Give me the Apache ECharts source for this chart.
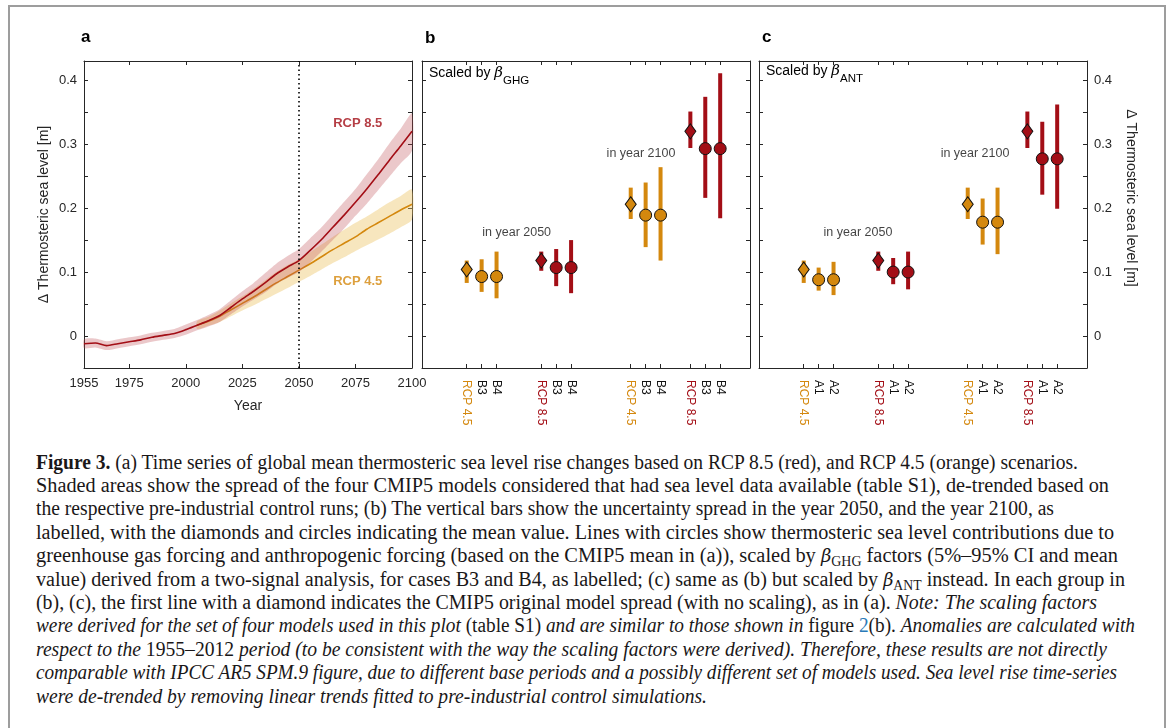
<!DOCTYPE html>
<html>
<head>
<meta charset="utf-8">
<script src="https://cdn.jsdelivr.net/npm/echarts@6.0.0/dist/echarts.min.js"></script>
<style>
html,body{margin:0;padding:0;background:#fff;width:1171px;height:728px;overflow:hidden;}
#frame{position:absolute;left:8px;top:5px;width:1154px;height:780px;border:2px solid #9d9d9d;z-index:5;pointer-events:none;}
#chart{position:absolute;left:0;top:0;width:1171px;height:440px;}
#caption{position:absolute;left:0;top:0;font-family:'Liberation Serif','Times New Roman',serif;font-size:20.5px;color:#1a1718;}
.cl{position:absolute;left:36px;white-space:nowrap;transform-origin:0 0;line-height:23.4px;}
.i{font-style:italic;}
.m{font-family:'DejaVu Serif',serif;font-style:italic;font-size:18px;}
.sb{font-size:14px;position:relative;top:4px;line-height:0;}
.lk{color:#2a7ab8;}
</style>
</head>
<body>
<div id="frame"></div>
<div id="chart"></div>
<div id="caption"></div>
<script>
// ---------- data: panel a (time series) ----------
const years = [1955,1960,1965,1970,1975,1980,1985,1990,1995,2000,2005,2010,2015,2020,2025,2030,2035,2040,2045,2050,2055,2060,2065,2070,2075,2080,2085,2090,2095,2100];
const rcp85Mean = [-0.012,-0.011,-0.015,-0.012,-0.009,-0.006,-0.002,0.001,0.004,0.010,0.017,0.024,0.032,0.045,0.058,0.070,0.083,0.097,0.108,0.118,0.134,0.151,0.170,0.189,0.209,0.230,0.252,0.275,0.297,0.320];
const rcp85Low  = [-0.019,-0.018,-0.022,-0.019,-0.016,-0.013,-0.009,-0.006,-0.003,0.002,0.009,0.015,0.022,0.034,0.046,0.057,0.068,0.081,0.091,0.100,0.115,0.132,0.150,0.168,0.188,0.207,0.228,0.249,0.270,0.290];
const rcp85High = [-0.005,-0.004,-0.008,-0.005,-0.002,0.001,0.005,0.008,0.011,0.018,0.025,0.033,0.042,0.056,0.070,0.083,0.098,0.113,0.125,0.136,0.153,0.170,0.190,0.210,0.230,0.253,0.276,0.301,0.324,0.348];
const rcp45Mean = [null,null,null,null,null,null,null,null,null,null,0.017,0.023,0.031,0.041,0.051,0.061,0.072,0.083,0.093,0.103,0.113,0.124,0.135,0.145,0.155,0.167,0.177,0.187,0.197,0.206];
const rcp45Low  = [null,null,null,null,null,null,null,null,null,null,0.011,0.016,0.022,0.031,0.040,0.048,0.057,0.066,0.075,0.085,0.094,0.104,0.114,0.123,0.133,0.142,0.151,0.160,0.170,0.182];
const rcp45High = [null,null,null,null,null,null,null,null,null,null,0.023,0.030,0.040,0.051,0.062,0.074,0.087,0.100,0.111,0.120,0.131,0.143,0.155,0.166,0.177,0.187,0.198,0.209,0.219,0.229];
const yearTicks = [1955,1975,2000,2025,2050,2075,2100];

// ---------- data: panel b (scaled by beta GHG) ----------
const bLabels = ['RCP 4.5','B3','B4','RCP 8.5','B3','B4','RCP 4.5','B3','B4','RCP 8.5','B3','B4'];
const bMean = [0.104,0.093,0.093, 0.118,0.107,0.107, 0.206,0.189,0.189, 0.320,0.293,0.293];
const bLow  = [0.083,0.069,0.059, 0.102,0.078,0.067, 0.183,0.139,0.118, 0.294,0.216,0.184];
const bHigh = [0.118,0.120,0.132, 0.132,0.136,0.150, 0.232,0.240,0.264, 0.351,0.374,0.411];

// ---------- data: panel c (scaled by beta ANT) ----------
const cLabels = ['RCP 4.5','A1','A2','RCP 8.5','A1','A2','RCP 4.5','A1','A2','RCP 8.5','A1','A2'];
const cMean = [0.104,0.088,0.088, 0.118,0.100,0.100, 0.206,0.178,0.178, 0.320,0.277,0.277];
const cLow  = [0.083,0.071,0.064, 0.102,0.081,0.073, 0.183,0.143,0.128, 0.294,0.221,0.199];
const cHigh = [0.118,0.107,0.116, 0.132,0.122,0.132, 0.232,0.215,0.232, 0.351,0.335,0.362];

const yearNotes = ['in year 2050','in year 2100'];
const yTitle = 'Δ Thermosteric sea level [m]';

// ---------- caption ----------
const captionLines = [
 '<b>Figure 3.</b> (a) Time series of global mean thermosteric sea level rise changes based on RCP 8.5 (red), and RCP 4.5 (orange) scenarios.',
 'Shaded areas show the spread of the four CMIP5 models considered that had sea level data available (table S1), de-trended based on',
 'the respective pre-industrial control runs; (b) The vertical bars show the uncertainty spread in the year 2050, and the year 2100, as',
 'labelled, with the diamonds and circles indicating the mean value. Lines with circles show thermosteric sea level contributions due to',
 'greenhouse gas forcing and anthropogenic forcing (based on the CMIP5 mean in (a)), scaled by <span class="m">β</span><span class="sb">GHG</span> factors (5%–95% CI and mean',
 'value) derived from a two-signal analysis, for cases B3 and B4, as labelled; (c) same as (b) but scaled by <span class="m">β</span><span class="sb">ANT</span> instead. In each group in',
 '(b), (c), the first line with a diamond indicates the CMIP5 original model spread (with no scaling), as in (a). <span class="i">Note: The scaling factors</span>',
 '<span class="i">were derived for the set of four models used in this plot</span> (table S1) <span class="i">and are similar to those shown in</span> figure <span class="lk">2</span>(b). <span class="i">Anomalies are calculated with</span>',
 '<span class="i">respect to the</span> 1955–2012 <span class="i">period (to be consistent with the way the scaling factors were derived). Therefore, these results are not directly</span>',
 '<span class="i">comparable with IPCC AR5 SPM.9 figure, due to different base periods and a possibly different set of models used. Sea level rise time-series</span>',
 '<span class="i">were de-trended by removing linear trends fitted to pre-industrial control simulations.</span>'
];

// ---------- layout / style ----------
const AX = '#262626';
const SANS = "'Liberation Sans', Arial, Helvetica, sans-serif";
const RED = '#a30e16';
const ORANGE = '#d4880e';
const RED_BAND = 'rgba(190,72,80,0.30)';
const OR_BAND = 'rgba(236,196,100,0.42)';
const groupStart = [3, 8, 14, 18];
const slotX = i => groupStart[Math.floor(i / 3)] + (i % 3);
const slots = bLabels.map((_, i) => slotX(i));
const scenColor = (labels, i) => labels[3 * Math.floor(i / 3)] === 'RCP 4.5' ? ORANGE : RED;

const gridTop = 61, gridH = 307, gridW = 328;
const grids = [
  {left: 84, top: gridTop, width: gridW, height: gridH},
  {left: 422, top: gridTop, width: gridW, height: gridH},
  {left: 759, top: gridTop, width: gridW, height: gridH}
].map(g => Object.assign({outerBoundsMode: 'none', containLabel: false}, g));

const tick = {show: true, inside: true, length: 4, lineStyle: {color: AX, width: 1}};
const line = {show: true, onZero: false, lineStyle: {color: AX, width: 1}};
const yFmt = v => { const r = Math.round(v * 100); return (r >= 0 && r <= 40 && r % 10 === 0) ? String(r / 100) : ''; };

function yAx(gi, pos, withLabels) {
  return {
    type: 'value', gridIndex: gi, position: pos, min: -0.05, max: 0.43, interval: 0.05,
    axisLine: line, axisTick: tick, splitLine: {show: false},
    axisLabel: {show: withLabels, formatter: yFmt, color: AX, fontFamily: SANS, fontSize: 13, margin: 7}
  };
}
function catLabel(labels) {
  return {
    show: true, customValues: slots, rotate: -90, margin: 12, fontFamily: SANS, fontSize: 12, color: '#111',
    formatter: v => {
      const i = slots.indexOf(Math.round(v));
      if (i < 0) return '';
      const t = labels[i];
      return t === 'RCP 4.5' ? '{o|' + t + '}' : t === 'RCP 8.5' ? '{r|' + t + '}' : '{k|' + t + '}';
    },
    rich: {o: {color: ORANGE, fontSize: 12, fontFamily: SANS}, r: {color: RED, fontSize: 12, fontFamily: SANS}, k: {color: '#111', fontSize: 12, fontFamily: SANS}}
  };
}
function xCat(gi, pos, labels) {
  return {
    type: 'value', gridIndex: gi, position: pos, min: 0, max: 22,
    axisLine: line, axisTick: Object.assign({customValues: slots}, tick), splitLine: {show: false},
    axisLabel: labels ? catLabel(labels) : {show: false}
  };
}

const xAxes = [
  {type: 'value', gridIndex: 0, position: 'bottom', min: 1955, max: 2100,
   axisLine: line, axisTick: Object.assign({customValues: yearTicks}, tick), splitLine: {show: false},
   axisLabel: {customValues: yearTicks, formatter: v => String(v), color: AX, fontFamily: SANS, fontSize: 13, margin: 9},
   name: 'Year', nameLocation: 'middle', nameGap: 31,
   nameTextStyle: {color: AX, fontFamily: SANS, fontSize: 14}},
  {type: 'value', gridIndex: 0, position: 'top', min: 1955, max: 2100,
   axisLine: line, axisTick: Object.assign({customValues: yearTicks}, tick), splitLine: {show: false},
   axisLabel: {show: false}},
  xCat(1, 'bottom', bLabels), xCat(1, 'top', null),
  xCat(2, 'bottom', cLabels), xCat(2, 'top', null)
];
const yA0 = yAx(0, 'left', true);
Object.assign(yA0, {name: yTitle, nameLocation: 'middle', nameGap: 33,
  nameTextStyle: {color: AX, fontFamily: SANS, fontSize: 14}});
const yAxes = [yA0, yAx(0, 'right', false), yAx(1, 'left', false), yAx(1, 'right', false), yAx(2, 'left', false), yAx(2, 'right', true)];

function bandSeries(lo, hi, color, z) {
  const idx = years.map((_, i) => i).filter(i => lo[i] !== null);
  return {
    type: 'custom', xAxisIndex: 0, yAxisIndex: 0, z: z, silent: true,
    data: [[years[idx[0]], lo[idx[0]]]],
    renderItem: (params, api) => {
      const pts = idx.map(i => api.coord([years[i], hi[i]]))
        .concat(idx.slice().reverse().map(i => api.coord([years[i], lo[i]])));
      return {type: 'polygon', shape: {points: pts, smooth: 0.25}, style: {fill: color}};
    }
  };
}
function lineSeries(mean, color, z, extra) {
  return Object.assign({
    type: 'line', xAxisIndex: 0, yAxisIndex: 0, z: z, silent: true, symbol: 'none', smooth: 0.25,
    data: years.map((y, i) => [y, mean[i]]).filter(d => d[1] !== null),
    lineStyle: {color: color, width: 1.6}, itemStyle: {color: color}
  }, extra || {});
}
function errSeries(gi, labels, lo, hi) {
  return {
    type: 'custom', xAxisIndex: 2 * gi, yAxisIndex: 2 * gi, z: 3, silent: true,
    data: lo.map((l, i) => [slotX(i), l, hi[i]]),
    encode: {x: 0, y: [1, 2]},
    renderItem: (params, api) => {
      const x = api.value(0);
      const p1 = api.coord([x, api.value(1)]);
      const p2 = api.coord([x, api.value(2)]);
      return {type: 'line', shape: {x1: p1[0], y1: p1[1], x2: p2[0], y2: p2[1]},
        style: {stroke: scenColor(labels, params.dataIndex), lineWidth: 4}};
    }
  };
}
function markerSeries(gi, labels, mean) {
  return {
    type: 'scatter', xAxisIndex: 2 * gi, yAxisIndex: 2 * gi, z: 4, silent: true,
    data: mean.map((m, i) => ({
      value: [slotX(i), m],
      symbol: labels[i].indexOf('RCP') === 0 ? 'diamond' : 'circle',
      symbolSize: labels[i].indexOf('RCP') === 0 ? [11, 15] : 12,
      itemStyle: {color: scenColor(labels, i), borderColor: '#111', borderWidth: 1, opacity: 1}
    }))
  };
}
function noteSeries(gi, pts) {
  return {
    type: 'scatter', xAxisIndex: 2 * gi, yAxisIndex: 2 * gi, z: 5, silent: true,
    symbolSize: 1, itemStyle: {color: 'rgba(0,0,0,0)'},
    data: pts,
    label: {show: true, position: 'inside', formatter: '{b}', color: '#111', fontFamily: SANS, fontSize: 12.5}
  };
}

const series = [
  bandSeries(rcp45Low, rcp45High, OR_BAND, 1),
  lineSeries(rcp45Mean, ORANGE, 2),
  bandSeries(rcp85Low, rcp85High, RED_BAND, 3),
  lineSeries(rcp85Mean, RED, 4, {
    markLine: {silent: true, symbol: 'none', label: {show: false},
      lineStyle: {color: '#000', type: [1.5, 3], width: 1.6},
      data: [{xAxis: 2050}]}
  }),
  {type: 'scatter', xAxisIndex: 0, yAxisIndex: 0, z: 6, silent: true, symbolSize: 1,
   itemStyle: {color: 'rgba(0,0,0,0)'},
   data: [{name: 'RCP 8.5', value: [2076, 0.332], label: {color: RED}},
          {name: 'RCP 4.5', value: [2076, 0.086], label: {color: ORANGE}}],
   label: {show: true, position: 'inside', formatter: '{b}', fontFamily: SANS, fontWeight: 'bold', fontSize: 13}},
  errSeries(1, bLabels, bLow, bHigh), markerSeries(1, bLabels, bMean),
  noteSeries(1, [{name: yearNotes[0], value: [6.35, 0.1625]}, {name: yearNotes[1], value: [14.69, 0.285]}]),
  errSeries(2, cLabels, cLow, cHigh), markerSeries(2, cLabels, cMean),
  noteSeries(2, [{name: yearNotes[0], value: [6.64, 0.1625]}, {name: yearNotes[1], value: [14.49, 0.285]}])
];

function scaledBy(x, y, sub) {
  return {
    type: 'text', x: x, y: y, silent: true, z: 10,
    style: {
      text: '{n|Scaled by }{g|β}{s|' + sub + '}',
      verticalAlign: 'top',
      rich: {
        n: {fontFamily: SANS, fontSize: 14, color: '#111', lineHeight: 18, verticalAlign: 'top'},
        g: {fontFamily: "'DejaVu Serif', serif", fontStyle: 'italic', fontSize: 15, color: '#444', lineHeight: 18, verticalAlign: 'top'},
        s: {fontFamily: SANS, fontSize: 11.5, color: '#111', lineHeight: 13, padding: [9, 0, 0, 0], verticalAlign: 'top'}
      }
    }
  };
}
const letter = (t, x, y) => ({type: 'text', x: x, y: y, silent: true,
  style: {text: t, fontFamily: SANS, fontWeight: 'bold', fontSize: 17, fill: '#000', verticalAlign: 'middle'}});

const option = {
  animation: false,
  backgroundColor: 'transparent',
  grid: grids,
  xAxis: xAxes,
  yAxis: yAxes,
  series: series,
  graphic: [
    letter('a', 81, 37), letter('b', 425, 38), letter('c', 762, 37),
    scaledBy(429, 66, 'GHG'), scaledBy(766, 64, 'ANT'),
    {type: 'text', x: 1131, y: 198, rotation: -Math.PI / 2, silent: true,
     style: {text: yTitle, fontFamily: SANS, fontSize: 14, fill: AX, align: 'center', verticalAlign: 'middle'}}
  ]
};
const chart = echarts.init(document.getElementById('chart'), null, {renderer: 'canvas'});
chart.setOption(option);

// caption rendering (each line as real text)
const cap = document.getElementById('caption');
const capTop = 450.5, capStep = 23.4, capLeft = 36;
const lineRight = [1078, 1109, 1054, 1114, 1118, 1125, 1097, 1135, 1107, 1117, 707];
captionLines.forEach((h, i) => {
  const d = document.createElement('div');
  d.className = 'cl';
  d.style.top = (capTop + i * capStep) + 'px';
  d.innerHTML = h;
  cap.appendChild(d);
  const w = d.getBoundingClientRect().width;
  d.style.transform = 'scaleX(' + ((lineRight[i] - capLeft) / w) + ')';
});
</script>
</body>
</html>
